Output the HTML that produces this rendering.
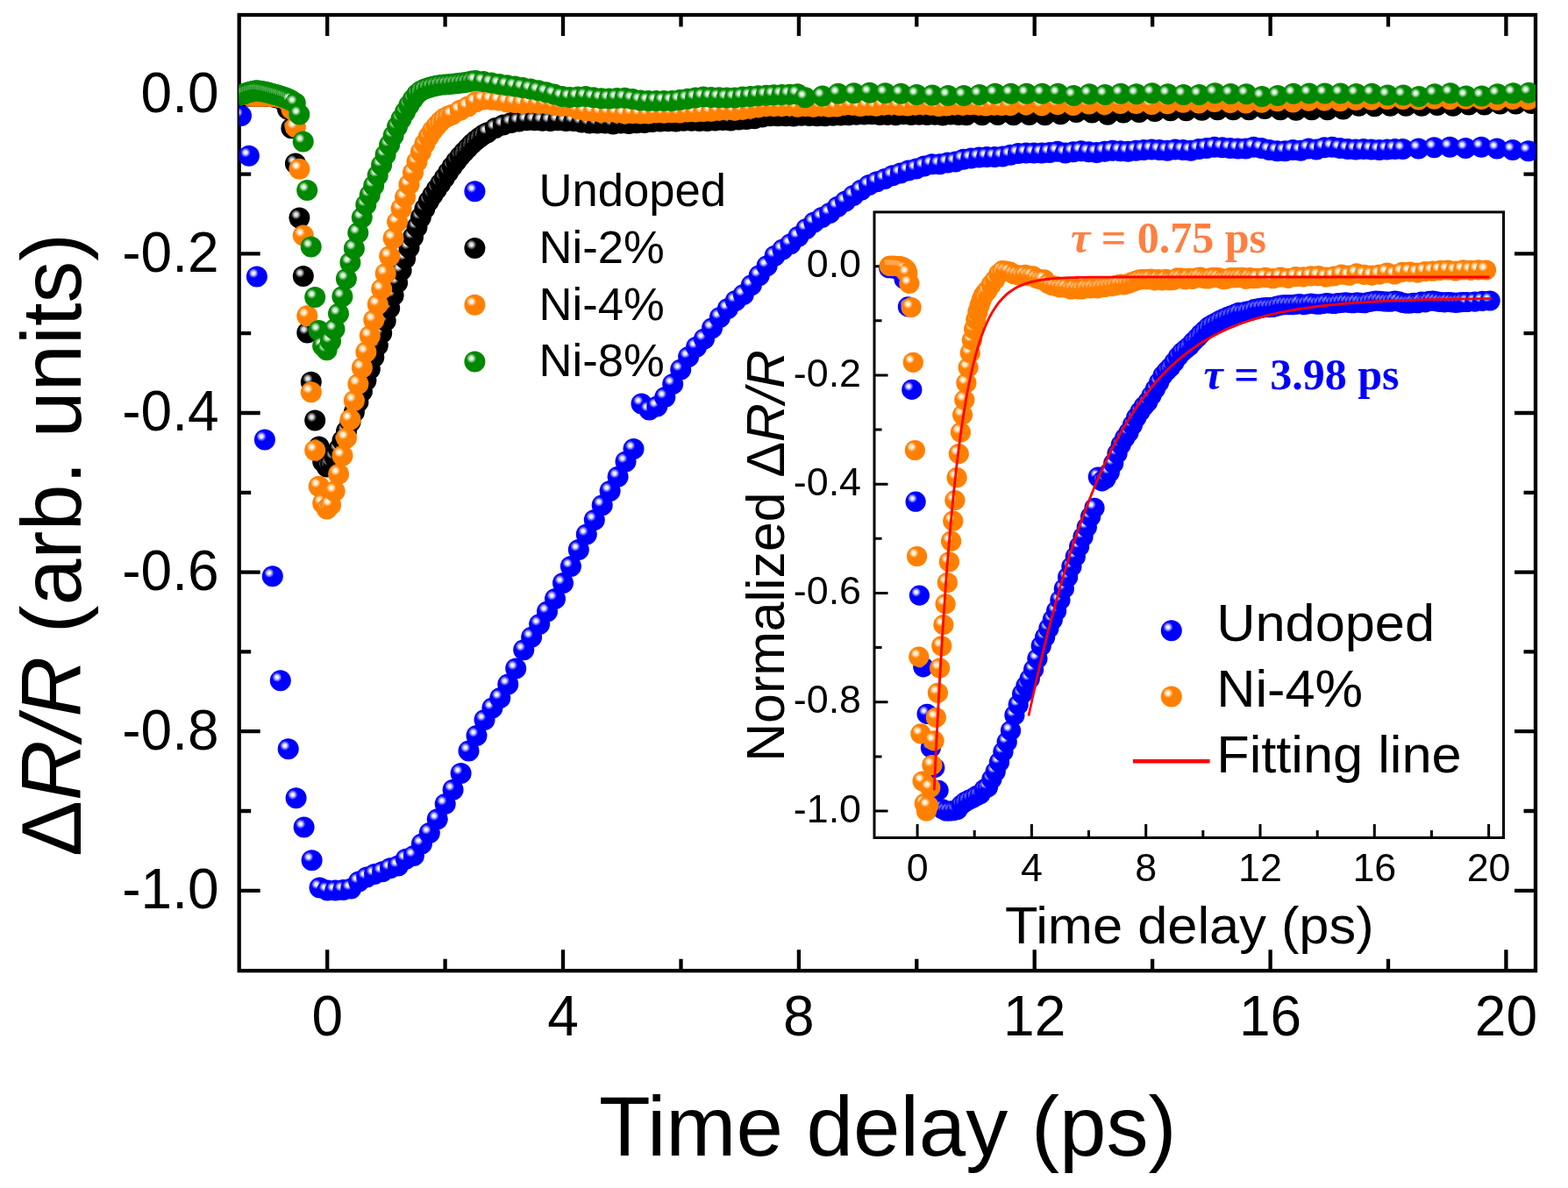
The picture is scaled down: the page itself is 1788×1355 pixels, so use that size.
<!DOCTYPE html>
<html lang="en"><head><meta charset="utf-8"><title>Transient reflectivity of undoped and Ni-doped samples</title>
<style>html,body{margin:0;padding:0;background:#fff}body{width:1788px;height:1355px;overflow:hidden}svg{display:block}text{font-family:"Liberation Sans",Arial,Helvetica,sans-serif;fill:#000}.ser{font-family:"Liberation Serif","Times New Roman",Times,serif;font-weight:bold}</style></head><body>
<svg width="1788" height="1355" viewBox="0 0 1788 1355">
<defs>
<radialGradient id="gB" cx="0.34" cy="0.34" r="0.235" fx="0.34" fy="0.34"><stop offset="0" stop-color="#f0f0ff"/><stop offset="0.3" stop-color="#f0f0ff"/><stop offset="0.66" stop-color="#7272ff"/><stop offset="1" stop-color="#0000ff"/></radialGradient>
<radialGradient id="gK" cx="0.34" cy="0.34" r="0.235" fx="0.34" fy="0.34"><stop offset="0" stop-color="#e6e6e6"/><stop offset="0.3" stop-color="#e6e6e6"/><stop offset="0.66" stop-color="#727272"/><stop offset="1" stop-color="#000000"/></radialGradient>
<radialGradient id="gO" cx="0.34" cy="0.34" r="0.235" fx="0.34" fy="0.34"><stop offset="0" stop-color="#fff6e4"/><stop offset="0.3" stop-color="#fff6e4"/><stop offset="0.66" stop-color="#ffba72"/><stop offset="1" stop-color="#ff8000"/></radialGradient>
<radialGradient id="gG" cx="0.34" cy="0.34" r="0.235" fx="0.34" fy="0.34"><stop offset="0" stop-color="#e6f8e6"/><stop offset="0.3" stop-color="#e6f8e6"/><stop offset="0.66" stop-color="#72be72"/><stop offset="1" stop-color="#008800"/></radialGradient>
<clipPath id="cm"><rect x="272.7" y="17.0" width="1478.3" height="1090.2"/></clipPath>
<clipPath id="ci"><rect x="997.0" y="241.9" width="717.5" height="713.6"/></clipPath>
</defs>
<rect width="1788" height="1355" fill="#fff"/>
<g stroke="#000" stroke-width="4.3" fill="none" stroke-linecap="butt">
<rect x="272.7" y="17.0" width="1478.3" height="1090.2"/>
<path d="M373.2 17.0v24.0M373.2 1107.2v-24.0M507.6 17.0v13.5M507.6 1107.2v-13.5M642.0 17.0v24.0M642.0 1107.2v-24.0M776.5 17.0v13.5M776.5 1107.2v-13.5M910.9 17.0v24.0M910.9 1107.2v-24.0M1045.3 17.0v13.5M1045.3 1107.2v-13.5M1179.7 17.0v24.0M1179.7 1107.2v-24.0M1314.1 17.0v13.5M1314.1 1107.2v-13.5M1448.6 17.0v24.0M1448.6 1107.2v-24.0M1583.0 17.0v13.5M1583.0 1107.2v-13.5M1717.4 17.0v24.0M1717.4 1107.2v-24.0M272.7 107.8h24.0M1751.0 107.8h-24.0M272.7 198.6h13.5M1751.0 198.6h-13.5M272.7 289.4h24.0M1751.0 289.4h-24.0M272.7 380.2h13.5M1751.0 380.2h-13.5M272.7 471.0h24.0M1751.0 471.0h-24.0M272.7 561.8h13.5M1751.0 561.8h-13.5M272.7 652.6h24.0M1751.0 652.6h-24.0M272.7 743.4h13.5M1751.0 743.4h-13.5M272.7 834.2h24.0M1751.0 834.2h-24.0M272.7 925.0h13.5M1751.0 925.0h-13.5M272.7 1015.8h24.0M1751.0 1015.8h-24.0"/>
</g>
<g clip-path="url(#cm)">
<g fill="url(#gB)"><circle cx="275" cy="131.9" r="12.0"/><circle cx="283.9" cy="177.8" r="12.0"/><circle cx="292.9" cy="315.4" r="12.0"/><circle cx="301.9" cy="501.6" r="12.0"/><circle cx="310.8" cy="657.3" r="12.0"/><circle cx="319.8" cy="776.3" r="12.0"/><circle cx="328.7" cy="854.3" r="12.0"/><circle cx="337.6" cy="910.3" r="12.0"/><circle cx="346.6" cy="943.6" r="12.0"/><circle cx="355.6" cy="981.2" r="12.0"/><circle cx="364.5" cy="1012.5" r="12.0"/><circle cx="373.4" cy="1015.5" r="12.0"/><circle cx="382.4" cy="1015.5" r="12.0"/><circle cx="391.4" cy="1015" r="12.0"/><circle cx="400.3" cy="1013.5" r="12.0"/><circle cx="409.2" cy="1005.5" r="12.0"/><circle cx="418.2" cy="1000.5" r="12.0"/><circle cx="427.1" cy="997" r="12.0"/><circle cx="436.1" cy="994.3" r="12.0"/><circle cx="445" cy="990.3" r="12.0"/><circle cx="454" cy="987.5" r="12.0"/><circle cx="462.9" cy="979.7" r="12.0"/><circle cx="471.9" cy="975.9" r="12.0"/><circle cx="480.9" cy="962.5" r="12.0"/><circle cx="489.8" cy="950" r="12.0"/><circle cx="498.8" cy="934.3" r="12.0"/><circle cx="507.7" cy="917" r="12.0"/><circle cx="516.6" cy="900.7" r="12.0"/><circle cx="525.6" cy="882" r="12.0"/><circle cx="534.5" cy="856.5" r="12.0"/><circle cx="543.5" cy="839" r="12.0"/><circle cx="552.5" cy="821" r="12.0"/><circle cx="561.4" cy="807.5" r="12.0"/><circle cx="570.3" cy="796" r="12.0"/><circle cx="579.3" cy="780.4" r="12.0"/><circle cx="588.2" cy="762.5" r="12.0"/><circle cx="597.2" cy="741.2" r="12.0"/><circle cx="606.1" cy="726.7" r="12.0"/><circle cx="615.1" cy="712.1" r="12.0"/><circle cx="624" cy="697.6" r="12.0"/><circle cx="633" cy="683" r="12.0"/><circle cx="642" cy="665.1" r="12.0"/><circle cx="650.9" cy="646.1" r="12.0"/><circle cx="659.8" cy="627.1" r="12.0"/><circle cx="668.8" cy="609.5" r="12.0"/><circle cx="677.8" cy="593" r="12.0"/><circle cx="686.7" cy="576.2" r="12.0"/><circle cx="695.6" cy="560" r="12.0"/><circle cx="704.6" cy="543.8" r="12.0"/><circle cx="713.5" cy="526.5" r="12.0"/><circle cx="722.5" cy="512" r="12.0"/><circle cx="731.5" cy="460.5" r="12.0"/><circle cx="740.4" cy="467.5" r="12.0"/><circle cx="749.3" cy="463.5" r="12.0"/><circle cx="758.3" cy="453" r="12.0"/><circle cx="767.2" cy="438" r="12.0"/><circle cx="776.2" cy="421.5" r="12.0"/><circle cx="785.1" cy="407" r="12.0"/><circle cx="794.1" cy="395.8" r="12.0"/><circle cx="803" cy="386.5" r="12.0"/><circle cx="812" cy="374.2" r="12.0"/><circle cx="820.9" cy="362" r="12.0"/><circle cx="829.9" cy="352" r="12.0"/><circle cx="838.8" cy="343" r="12.0"/><circle cx="847.8" cy="336" r="12.0"/><circle cx="856.8" cy="325.3" r="12.0"/><circle cx="865.7" cy="314.3" r="12.0"/><circle cx="874.6" cy="303.2" r="12.0"/><circle cx="883.6" cy="291.7" r="12.0"/><circle cx="892.5" cy="284.4" r="12.0"/><circle cx="901.5" cy="278.2" r="12.0"/><circle cx="910.4" cy="269.8" r="12.0"/><circle cx="919.4" cy="260.9" r="12.0"/><circle cx="928.3" cy="253.6" r="12.0"/><circle cx="937.3" cy="248" r="12.0"/><circle cx="946.2" cy="243" r="12.0"/><circle cx="955.2" cy="235.7" r="12.0"/><circle cx="964.1" cy="229.6" r="12.0"/><circle cx="973.1" cy="222.9" r="12.0"/><circle cx="982" cy="216.7" r="12.0"/><circle cx="991" cy="211.1" r="12.0"/><circle cx="999.9" cy="207.2" r="12.0"/><circle cx="1008.9" cy="204" r="12.0"/><circle cx="1017.8" cy="200.3" r="12.0"/><circle cx="1026.8" cy="197.5" r="12.0"/><circle cx="1035.8" cy="194.6" r="12.0"/><circle cx="1044.7" cy="192.4" r="12.0"/><circle cx="1053.7" cy="189.6" r="12.0"/><circle cx="1062.6" cy="187.3" r="12.0"/><circle cx="1071.5" cy="187.3" r="12.0"/><circle cx="1080.5" cy="185.6" r="12.0"/><circle cx="1089.4" cy="184.5" r="12.0"/><circle cx="1098.4" cy="181.7" r="12.0"/><circle cx="1107.3" cy="180.6" r="12.0"/><circle cx="1116.3" cy="179.5" r="12.0"/><circle cx="1125.2" cy="178.9" r="12.0"/><circle cx="1134.2" cy="178.9" r="12.0"/><circle cx="1143.2" cy="178.4" r="12.0"/><circle cx="1152.1" cy="176.7" r="12.0"/><circle cx="1161" cy="175" r="12.0"/><circle cx="1170" cy="174.5" r="12.0"/><circle cx="1178.9" cy="174.5" r="12.0"/><circle cx="1187.9" cy="174.5" r="12.0"/><circle cx="1196.8" cy="173.9" r="12.0"/><circle cx="1205.8" cy="172.8" r="12.0"/><circle cx="1214.8" cy="174.5" r="12.0"/><circle cx="1223.7" cy="173.3" r="12.0"/><circle cx="1232.7" cy="172.2" r="12.0"/><circle cx="1241.6" cy="173.3" r="12.0"/><circle cx="1250.5" cy="173.9" r="12.0"/><circle cx="1259.5" cy="172.8" r="12.0"/><circle cx="1268.4" cy="171.7" r="12.0"/><circle cx="1277.4" cy="172.2" r="12.0"/><circle cx="1286.3" cy="172.8" r="12.0"/><circle cx="1295.3" cy="171.7" r="12.0"/><circle cx="1304.2" cy="171.1" r="12.0"/><circle cx="1313.2" cy="170.5" r="12.0"/><circle cx="1322.1" cy="171.1" r="12.0"/><circle cx="1331.1" cy="171.7" r="12.0"/><circle cx="1340" cy="170.5" r="12.0"/><circle cx="1349" cy="171.1" r="12.0"/><circle cx="1357.9" cy="171.7" r="12.0"/><circle cx="1366.9" cy="170" r="12.0"/><circle cx="1375.8" cy="168.9" r="12.0"/><circle cx="1384.8" cy="167.7" r="12.0"/><circle cx="1393.8" cy="168.2" r="12.0"/><circle cx="1402.7" cy="168.9" r="12.0"/><circle cx="1411.6" cy="169.4" r="12.0"/><circle cx="1420.6" cy="169.4" r="12.0"/><circle cx="1429.5" cy="167.7" r="12.0"/><circle cx="1438.5" cy="168.9" r="12.0"/><circle cx="1447.4" cy="171.1" r="12.0"/><circle cx="1456.4" cy="172.2" r="12.0"/><circle cx="1465.3" cy="172.2" r="12.0"/><circle cx="1474.3" cy="171.1" r="12.0"/><circle cx="1483.2" cy="171.7" r="12.0"/><circle cx="1492.2" cy="169.4" r="12.0"/><circle cx="1501.1" cy="170.5" r="12.0"/><circle cx="1510.1" cy="168.3" r="12.0"/><circle cx="1519" cy="167.7" r="12.0"/><circle cx="1528" cy="168.9" r="12.0"/><circle cx="1536.9" cy="170" r="12.0"/><circle cx="1545.9" cy="170.5" r="12.0"/><circle cx="1554.8" cy="170" r="12.0"/><circle cx="1563.8" cy="170.5" r="12.0"/><circle cx="1572.8" cy="171.1" r="12.0"/><circle cx="1581.7" cy="170.5" r="12.0"/><circle cx="1590.6" cy="170" r="12.0"/><circle cx="1599.6" cy="170" r="12.0"/><circle cx="1617.5" cy="169.4" r="12.0"/><circle cx="1635.4" cy="168.3" r="12.0"/><circle cx="1653.3" cy="167.7" r="12.0"/><circle cx="1671.2" cy="168.9" r="12.0"/><circle cx="1689.1" cy="167.7" r="12.0"/><circle cx="1707" cy="169.4" r="12.0"/><circle cx="1724.9" cy="171.1" r="12.0"/><circle cx="1742.8" cy="172.2" r="12.0"/></g>
<g fill="url(#gK)"><circle cx="281" cy="109.4" r="12.0"/><circle cx="283.3" cy="109.4" r="12.0"/><circle cx="285.5" cy="109.5" r="12.0"/><circle cx="287.7" cy="109.5" r="12.0"/><circle cx="290" cy="109.5" r="12.0"/><circle cx="292.2" cy="109.5" r="12.0"/><circle cx="294.4" cy="109.5" r="12.0"/><circle cx="296.7" cy="109.5" r="12.0"/><circle cx="298.9" cy="109.5" r="12.0"/><circle cx="301.1" cy="109.6" r="12.0"/><circle cx="303.4" cy="109.7" r="12.0"/><circle cx="305.6" cy="109.8" r="12.0"/><circle cx="307.8" cy="109.9" r="12.0"/><circle cx="310.1" cy="110.2" r="12.0"/><circle cx="312.3" cy="110.5" r="12.0"/><circle cx="314.6" cy="110.9" r="12.0"/><circle cx="316.8" cy="111.4" r="12.0"/><circle cx="319" cy="112.1" r="12.0"/><circle cx="321.3" cy="112.9" r="12.0"/><circle cx="323.5" cy="115.5" r="12.0"/><circle cx="328" cy="124.5" r="12.0"/><circle cx="332.4" cy="146.3" r="12.0"/><circle cx="336.9" cy="186.4" r="12.0"/><circle cx="341.4" cy="248.6" r="12.0"/><circle cx="345.8" cy="315" r="12.0"/><circle cx="350.3" cy="379.5" r="12.0"/><circle cx="354.8" cy="435.7" r="12.0"/><circle cx="359.2" cy="479.6" r="12.0"/><circle cx="363.7" cy="509.5" r="12.0"/><circle cx="368.2" cy="526.5" r="12.0"/><circle cx="372.7" cy="532.5" r="12.0"/><circle cx="377.1" cy="529" r="12.0"/><circle cx="381.6" cy="521.5" r="12.0"/><circle cx="386.1" cy="512.5" r="12.0"/><circle cx="390.5" cy="502.5" r="12.0"/><circle cx="395" cy="492" r="12.0"/><circle cx="399.5" cy="481.5" r="12.0"/><circle cx="403.9" cy="470" r="12.0"/><circle cx="408.4" cy="458.5" r="12.0"/><circle cx="412.9" cy="446.5" r="12.0"/><circle cx="417.4" cy="434" r="12.0"/><circle cx="421.8" cy="421" r="12.0"/><circle cx="426.3" cy="407.5" r="12.0"/><circle cx="430.8" cy="394" r="12.0"/><circle cx="435.2" cy="380" r="12.0"/><circle cx="439.7" cy="366" r="12.0"/><circle cx="444.2" cy="351.5" r="12.0"/><circle cx="448.6" cy="337" r="12.0"/><circle cx="453.1" cy="322.5" r="12.0"/><circle cx="457.6" cy="308.5" r="12.0"/><circle cx="462.1" cy="295" r="12.0"/><circle cx="466.5" cy="282.5" r="12.0"/><circle cx="471" cy="270.5" r="12.0"/><circle cx="475.5" cy="259" r="12.0"/><circle cx="479.9" cy="248" r="12.0"/><circle cx="484.4" cy="238" r="12.0"/><circle cx="488.9" cy="229.5" r="12.0"/><circle cx="493.4" cy="222.5" r="12.0"/><circle cx="497.8" cy="216" r="12.0"/><circle cx="502.3" cy="209.5" r="12.0"/><circle cx="506.8" cy="203" r="12.0"/><circle cx="511.2" cy="196.5" r="12.0"/><circle cx="515.7" cy="190" r="12.0"/><circle cx="520.2" cy="184" r="12.0"/><circle cx="524.6" cy="178.5" r="12.0"/><circle cx="529.1" cy="173.5" r="12.0"/><circle cx="533.6" cy="168.7" r="12.0"/><circle cx="538" cy="164.3" r="12.0"/><circle cx="542.5" cy="160.3" r="12.0"/><circle cx="547" cy="156.8" r="12.0"/><circle cx="551.5" cy="153.6" r="12.0"/><circle cx="555.9" cy="151.2" r="12.0"/><circle cx="564.9" cy="146.1" r="12.0"/><circle cx="573.8" cy="142.6" r="12.0"/><circle cx="582.8" cy="140.1" r="12.0"/><circle cx="591.7" cy="138.6" r="12.0"/><circle cx="600.6" cy="137.3" r="12.0"/><circle cx="609.6" cy="137.3" r="12.0"/><circle cx="618.5" cy="137.8" r="12.0"/><circle cx="627.5" cy="138" r="12.0"/><circle cx="636.4" cy="137.3" r="12.0"/><circle cx="645.4" cy="138.1" r="12.0"/><circle cx="654.3" cy="138" r="12.0"/><circle cx="663.3" cy="139.6" r="12.0"/><circle cx="672.2" cy="140.6" r="12.0"/><circle cx="681.2" cy="140.6" r="12.0"/><circle cx="690.1" cy="140.5" r="12.0"/><circle cx="699.1" cy="141.4" r="12.0"/><circle cx="708" cy="140.6" r="12.0"/><circle cx="717" cy="141" r="12.0"/><circle cx="725.9" cy="140.3" r="12.0"/><circle cx="734.9" cy="140" r="12.0"/><circle cx="743.8" cy="139" r="12.0"/><circle cx="752.8" cy="138.5" r="12.0"/><circle cx="761.8" cy="138.2" r="12.0"/><circle cx="770.7" cy="138.6" r="12.0"/><circle cx="779.6" cy="137.7" r="12.0"/><circle cx="788.6" cy="137.7" r="12.0"/><circle cx="797.5" cy="137.9" r="12.0"/><circle cx="806.5" cy="138" r="12.0"/><circle cx="815.4" cy="137.5" r="12.0"/><circle cx="824.4" cy="137" r="12.0"/><circle cx="833.3" cy="137.4" r="12.0"/><circle cx="842.3" cy="136.4" r="12.0"/><circle cx="851.2" cy="136" r="12.0"/><circle cx="860.2" cy="135.3" r="12.0"/><circle cx="869.1" cy="133.5" r="12.0"/><circle cx="878.1" cy="132.3" r="12.0"/><circle cx="887" cy="132.3" r="12.0"/><circle cx="896" cy="132.3" r="12.0"/><circle cx="904.9" cy="132.4" r="12.0"/><circle cx="913.9" cy="131.8" r="12.0"/><circle cx="922.8" cy="131.9" r="12.0"/><circle cx="931.8" cy="132.3" r="12.0"/><circle cx="940.8" cy="132.2" r="12.0"/><circle cx="949.7" cy="131.7" r="12.0"/><circle cx="958.6" cy="131.6" r="12.0"/><circle cx="967.6" cy="131.3" r="12.0"/><circle cx="976.5" cy="130.7" r="12.0"/><circle cx="985.5" cy="130.4" r="12.0"/><circle cx="994.4" cy="130.2" r="12.0"/><circle cx="1003.4" cy="131" r="12.0"/><circle cx="1012.3" cy="130.9" r="12.0"/><circle cx="1021.3" cy="131.2" r="12.0"/><circle cx="1030.2" cy="130.2" r="12.0"/><circle cx="1039.2" cy="130.9" r="12.0"/><circle cx="1048.1" cy="130.8" r="12.0"/><circle cx="1057.1" cy="131.1" r="12.0"/><circle cx="1066" cy="130.7" r="12.0"/><circle cx="1075" cy="131.4" r="12.0"/><circle cx="1083.9" cy="130.5" r="12.0"/><circle cx="1092.9" cy="131" r="12.0"/><circle cx="1102" cy="131.3" r="12.0"/><circle cx="1119.9" cy="131.3" r="12.0"/><circle cx="1137.8" cy="131" r="12.0"/><circle cx="1155.7" cy="131.3" r="12.0"/><circle cx="1173.6" cy="131" r="12.0"/><circle cx="1191.5" cy="131.3" r="12.0"/><circle cx="1209.4" cy="130.2" r="12.0"/><circle cx="1227.3" cy="128" r="12.0"/><circle cx="1245.2" cy="128.5" r="12.0"/><circle cx="1263.1" cy="130.8" r="12.0"/><circle cx="1281" cy="128.5" r="12.0"/><circle cx="1298.9" cy="128" r="12.0"/><circle cx="1316.8" cy="126.9" r="12.0"/><circle cx="1334.7" cy="126.3" r="12.0"/><circle cx="1352.6" cy="126.3" r="12.0"/><circle cx="1370.5" cy="125.7" r="12.0"/><circle cx="1388.4" cy="125.2" r="12.0"/><circle cx="1406.3" cy="125.2" r="12.0"/><circle cx="1424.2" cy="125.2" r="12.0"/><circle cx="1442.1" cy="124.1" r="12.0"/><circle cx="1460" cy="125.2" r="12.0"/><circle cx="1477.9" cy="125.7" r="12.0"/><circle cx="1495.8" cy="125.2" r="12.0"/><circle cx="1513.7" cy="125.2" r="12.0"/><circle cx="1531.6" cy="124.6" r="12.0"/><circle cx="1549.5" cy="120.7" r="12.0"/><circle cx="1567.4" cy="121.3" r="12.0"/><circle cx="1585.3" cy="120.7" r="12.0"/><circle cx="1603.2" cy="120.7" r="12.0"/><circle cx="1621.1" cy="120.7" r="12.0"/><circle cx="1639" cy="120.1" r="12.0"/><circle cx="1656.9" cy="120.7" r="12.0"/><circle cx="1674.8" cy="119.6" r="12.0"/><circle cx="1692.7" cy="119.6" r="12.0"/><circle cx="1710.6" cy="118.5" r="12.0"/><circle cx="1728.5" cy="118.5" r="12.0"/><circle cx="1746.4" cy="117.9" r="12.0"/></g>
<path d="M276.4 103v4.4M278.7 103v4.4M280.9 103.1v4.4M283.1 103.1v4.4M285.4 103.1v4.4M287.6 103.1v4.4M289.8 103.1v4.4M292.1 103.1v4.4M294.3 103.1v4.4M296.5 103.2v4.4M298.8 103.3v4.4M301 103.4v4.4M303.2 103.5v4.4M305.5 103.8v4.4M307.7 104.1v4.4M309.9 104.5v4.4M312.2 105v4.4M314.4 105.7v4.4M316.7 106.5v4.4M368.1 526.1v4.4M520 172.1v4.4M524.5 167.1v4.4M529 162.3v4.4M533.4 157.9v4.4M537.9 153.9v4.4M542.4 150.4v4.4" stroke="#fff" stroke-opacity=".3" stroke-width="1.5" stroke-linecap="round" fill="none"/>
<g fill="url(#gO)"><circle cx="285.5" cy="109.4" r="12.0"/><circle cx="287.7" cy="109.4" r="12.0"/><circle cx="290" cy="109.4" r="12.0"/><circle cx="292.2" cy="109.4" r="12.0"/><circle cx="294.4" cy="109.4" r="12.0"/><circle cx="296.7" cy="109.4" r="12.0"/><circle cx="298.9" cy="109.4" r="12.0"/><circle cx="301.1" cy="109.4" r="12.0"/><circle cx="303.4" cy="109.5" r="12.0"/><circle cx="305.6" cy="109.6" r="12.0"/><circle cx="307.8" cy="109.7" r="12.0"/><circle cx="310.1" cy="109.7" r="12.0"/><circle cx="312.3" cy="109.8" r="12.0"/><circle cx="314.5" cy="110.2" r="12.0"/><circle cx="316.8" cy="110.5" r="12.0"/><circle cx="319" cy="110.9" r="12.0"/><circle cx="321.3" cy="111.4" r="12.0"/><circle cx="323.5" cy="112.1" r="12.0"/><circle cx="325.7" cy="112.9" r="12.0"/><circle cx="328" cy="115.5" r="12.0"/><circle cx="332.4" cy="124.5" r="12.0"/><circle cx="336.9" cy="145.1" r="12.0"/><circle cx="341.4" cy="192.7" r="12.0"/><circle cx="345.8" cy="268.6" r="12.0"/><circle cx="350.3" cy="360.3" r="12.0"/><circle cx="354.8" cy="447.2" r="12.0"/><circle cx="359.2" cy="513.7" r="12.0"/><circle cx="363.7" cy="554.7" r="12.0"/><circle cx="368.2" cy="574" r="12.0"/><circle cx="372.7" cy="580.5" r="12.0"/><circle cx="377.1" cy="575.9" r="12.0"/><circle cx="381.6" cy="560.3" r="12.0"/><circle cx="386.1" cy="540.7" r="12.0"/><circle cx="390.5" cy="519.8" r="12.0"/><circle cx="395" cy="499.6" r="12.0"/><circle cx="399.5" cy="478.4" r="12.0"/><circle cx="403.9" cy="457" r="12.0"/><circle cx="408.4" cy="437.9" r="12.0"/><circle cx="412.9" cy="419.5" r="12.0"/><circle cx="417.4" cy="401.6" r="12.0"/><circle cx="421.8" cy="383.1" r="12.0"/><circle cx="426.3" cy="365.1" r="12.0"/><circle cx="430.8" cy="347.2" r="12.0"/><circle cx="435.2" cy="329.8" r="12.0"/><circle cx="439.7" cy="311.9" r="12.0"/><circle cx="444.2" cy="292.3" r="12.0"/><circle cx="448.6" cy="271.7" r="12.0"/><circle cx="453.1" cy="253.2" r="12.0"/><circle cx="457.6" cy="238" r="12.0"/><circle cx="462.1" cy="225.1" r="12.0"/><circle cx="466.5" cy="210.5" r="12.0"/><circle cx="471" cy="197.1" r="12.0"/><circle cx="475.5" cy="184.5" r="12.0"/><circle cx="479.9" cy="173.5" r="12.0"/><circle cx="484.4" cy="164" r="12.0"/><circle cx="488.9" cy="155.8" r="12.0"/><circle cx="493.3" cy="149" r="12.0"/><circle cx="497.8" cy="143.4" r="12.0"/><circle cx="502.3" cy="138.5" r="12.0"/><circle cx="506.8" cy="134.8" r="12.0"/><circle cx="511.2" cy="132.5" r="12.0"/><circle cx="515.7" cy="130.7" r="12.0"/><circle cx="524.7" cy="125.7" r="12.0"/><circle cx="533.6" cy="121.5" r="12.0"/><circle cx="542.6" cy="116.2" r="12.0"/><circle cx="551.5" cy="113.4" r="12.0"/><circle cx="560.5" cy="113.8" r="12.0"/><circle cx="569.4" cy="114.6" r="12.0"/><circle cx="578.4" cy="116.4" r="12.0"/><circle cx="587.3" cy="117.1" r="12.0"/><circle cx="596.2" cy="117.9" r="12.0"/><circle cx="605.2" cy="116.9" r="12.0"/><circle cx="614.2" cy="117.9" r="12.0"/><circle cx="623.1" cy="118.1" r="12.0"/><circle cx="632.1" cy="120.1" r="12.0"/><circle cx="641" cy="121.1" r="12.0"/><circle cx="650" cy="121.1" r="12.0"/><circle cx="658.9" cy="124.6" r="12.0"/><circle cx="667.9" cy="126.2" r="12.0"/><circle cx="676.8" cy="126.8" r="12.0"/><circle cx="685.8" cy="127.9" r="12.0"/><circle cx="694.7" cy="127.8" r="12.0"/><circle cx="703.7" cy="128.2" r="12.0"/><circle cx="712.6" cy="129.5" r="12.0"/><circle cx="721.6" cy="128.9" r="12.0"/><circle cx="730.5" cy="129.5" r="12.0"/><circle cx="739.5" cy="129.4" r="12.0"/><circle cx="748.4" cy="128.4" r="12.0"/><circle cx="757.4" cy="128.7" r="12.0"/><circle cx="766.3" cy="128.2" r="12.0"/><circle cx="775.2" cy="128.6" r="12.0"/><circle cx="784.2" cy="127.6" r="12.0"/><circle cx="793.2" cy="127.5" r="12.0"/><circle cx="802.1" cy="126.9" r="12.0"/><circle cx="811" cy="126.7" r="12.0"/><circle cx="820" cy="125.8" r="12.0"/><circle cx="829" cy="125" r="12.0"/><circle cx="837.9" cy="125.7" r="12.0"/><circle cx="846.9" cy="124.7" r="12.0"/><circle cx="855.8" cy="123.4" r="12.0"/><circle cx="864.8" cy="122.2" r="12.0"/><circle cx="873.7" cy="121.1" r="12.0"/><circle cx="882.7" cy="120.9" r="12.0"/><circle cx="891.6" cy="121" r="12.0"/><circle cx="900.5" cy="120.5" r="12.0"/><circle cx="909.5" cy="121.8" r="12.0"/><circle cx="918.5" cy="121" r="12.0"/><circle cx="927.4" cy="121.8" r="12.0"/><circle cx="936.4" cy="120.7" r="12.0"/><circle cx="945.3" cy="121.8" r="12.0"/><circle cx="954.2" cy="121.4" r="12.0"/><circle cx="963.2" cy="119.6" r="12.0"/><circle cx="972.2" cy="119.8" r="12.0"/><circle cx="981.1" cy="121" r="12.0"/><circle cx="990" cy="119.9" r="12.0"/><circle cx="999" cy="120.8" r="12.0"/><circle cx="1008" cy="119.6" r="12.0"/><circle cx="1016.9" cy="119" r="12.0"/><circle cx="1025.8" cy="120.1" r="12.0"/><circle cx="1034.8" cy="120.5" r="12.0"/><circle cx="1043.8" cy="119.5" r="12.0"/><circle cx="1052.7" cy="119.1" r="12.0"/><circle cx="1061.7" cy="119.7" r="12.0"/><circle cx="1070.6" cy="120.9" r="12.0"/><circle cx="1079.5" cy="120.6" r="12.0"/><circle cx="1088.5" cy="119.3" r="12.0"/><circle cx="1097.5" cy="119.6" r="12.0"/><circle cx="1106.4" cy="119.3" r="12.0"/><circle cx="1115.3" cy="119.2" r="12.0"/><circle cx="1124.3" cy="120.6" r="12.0"/><circle cx="1133.2" cy="119.4" r="12.0"/><circle cx="1142.2" cy="120.1" r="12.0"/><circle cx="1152.2" cy="119.9" r="12.0"/><circle cx="1170.1" cy="119.3" r="12.0"/><circle cx="1188" cy="120.2" r="12.0"/><circle cx="1205.9" cy="118.9" r="12.0"/><circle cx="1223.8" cy="119.9" r="12.0"/><circle cx="1241.7" cy="118.6" r="12.0"/><circle cx="1259.6" cy="118.9" r="12.0"/><circle cx="1277.5" cy="118.1" r="12.0"/><circle cx="1295.4" cy="117.9" r="12.0"/><circle cx="1313.3" cy="118.9" r="12.0"/><circle cx="1331.2" cy="118.2" r="12.0"/><circle cx="1349.1" cy="116.8" r="12.0"/><circle cx="1367" cy="117.5" r="12.0"/><circle cx="1384.9" cy="115.9" r="12.0"/><circle cx="1402.8" cy="116.9" r="12.0"/><circle cx="1420.7" cy="117.5" r="12.0"/><circle cx="1438.6" cy="116.7" r="12.0"/><circle cx="1456.5" cy="115.2" r="12.0"/><circle cx="1474.4" cy="116.6" r="12.0"/><circle cx="1492.3" cy="114.7" r="12.0"/><circle cx="1510.2" cy="114.5" r="12.0"/><circle cx="1528.1" cy="115.3" r="12.0"/><circle cx="1546" cy="114.1" r="12.0"/><circle cx="1563.9" cy="113.8" r="12.0"/><circle cx="1581.8" cy="113.1" r="12.0"/><circle cx="1599.7" cy="112.9" r="12.0"/><circle cx="1617.6" cy="113.6" r="12.0"/><circle cx="1635.5" cy="112.7" r="12.0"/><circle cx="1653.4" cy="113.2" r="12.0"/><circle cx="1671.3" cy="112.7" r="12.0"/><circle cx="1689.2" cy="112.9" r="12.0"/><circle cx="1707.1" cy="114" r="12.0"/><circle cx="1725" cy="113.1" r="12.0"/><circle cx="1742.9" cy="113.4" r="12.0"/></g>
<path d="M280.9 103v4.4M283.1 103v4.4M285.4 103v4.4M287.6 103v4.4M289.8 103v4.4M292.1 103v4.4M294.3 103v4.4M296.5 103v4.4M298.8 103.1v4.4M301 103.2v4.4M303.2 103.3v4.4M305.5 103.3v4.4M307.7 103.4v4.4M309.9 103.8v4.4M312.2 104.1v4.4M314.4 104.5v4.4M316.7 105v4.4M318.9 105.7v4.4M321.1 106.5v4.4M368.1 574.1v4.4M493.2 137v4.4M497.7 132.1v4.4M502.2 128.4v4.4" stroke="#fff" stroke-opacity=".3" stroke-width="1.5" stroke-linecap="round" fill="none"/>
<g fill="url(#gG)"><circle cx="274.2" cy="108.2" r="12.0"/><circle cx="276.5" cy="107.7" r="12.0"/><circle cx="278.7" cy="106.9" r="12.0"/><circle cx="280.9" cy="106.1" r="12.0"/><circle cx="283.2" cy="105.3" r="12.0"/><circle cx="285.4" cy="104.7" r="12.0"/><circle cx="287.6" cy="104.2" r="12.0"/><circle cx="289.9" cy="103.7" r="12.0"/><circle cx="292.1" cy="103.3" r="12.0"/><circle cx="294.3" cy="103.5" r="12.0"/><circle cx="296.6" cy="103.8" r="12.0"/><circle cx="298.8" cy="104.2" r="12.0"/><circle cx="301" cy="104.5" r="12.0"/><circle cx="303.3" cy="105.1" r="12.0"/><circle cx="305.5" cy="105.6" r="12.0"/><circle cx="307.7" cy="106.2" r="12.0"/><circle cx="310" cy="106.7" r="12.0"/><circle cx="312.2" cy="107.4" r="12.0"/><circle cx="314.4" cy="108" r="12.0"/><circle cx="316.7" cy="108.6" r="12.0"/><circle cx="318.9" cy="109.2" r="12.0"/><circle cx="321.2" cy="109.9" r="12.0"/><circle cx="323.4" cy="110.8" r="12.0"/><circle cx="325.6" cy="111.6" r="12.0"/><circle cx="327.9" cy="112.4" r="12.0"/><circle cx="330.1" cy="113.6" r="12.0"/><circle cx="332.3" cy="114.8" r="12.0"/><circle cx="336.8" cy="117.6" r="12.0"/><circle cx="341.3" cy="130.5" r="12.0"/><circle cx="345.7" cy="161.6" r="12.0"/><circle cx="350.2" cy="217" r="12.0"/><circle cx="354.7" cy="281.5" r="12.0"/><circle cx="359.2" cy="339.1" r="12.0"/><circle cx="363.6" cy="377" r="12.0"/><circle cx="368.1" cy="394.5" r="12.0"/><circle cx="372.6" cy="399.3" r="12.0"/><circle cx="377" cy="389.2" r="12.0"/><circle cx="381.5" cy="375.4" r="12.0"/><circle cx="386" cy="357.7" r="12.0"/><circle cx="390.4" cy="338.2" r="12.0"/><circle cx="394.9" cy="318" r="12.0"/><circle cx="399.4" cy="299.6" r="12.0"/><circle cx="403.9" cy="283.4" r="12.0"/><circle cx="408.3" cy="265.5" r="12.0"/><circle cx="412.8" cy="248.3" r="12.0"/><circle cx="417.3" cy="233.5" r="12.0"/><circle cx="421.7" cy="222.4" r="12.0"/><circle cx="426.2" cy="211.7" r="12.0"/><circle cx="430.7" cy="200" r="12.0"/><circle cx="435.1" cy="188.2" r="12.0"/><circle cx="439.6" cy="176.5" r="12.0"/><circle cx="444.1" cy="165.3" r="12.0"/><circle cx="448.6" cy="154.7" r="12.0"/><circle cx="453" cy="144.6" r="12.0"/><circle cx="457.5" cy="135.7" r="12.0"/><circle cx="462" cy="127.8" r="12.0"/><circle cx="466.4" cy="120" r="12.0"/><circle cx="470.9" cy="113.3" r="12.0"/><circle cx="475.4" cy="107.6" r="12.0"/><circle cx="479.8" cy="103.8" r="12.0"/><circle cx="484.3" cy="101.5" r="12.0"/><circle cx="488.8" cy="100" r="12.0"/><circle cx="493.2" cy="98.8" r="12.0"/><circle cx="497.7" cy="97.8" r="12.0"/><circle cx="502.2" cy="97" r="12.0"/><circle cx="506.7" cy="96.6" r="12.0"/><circle cx="511.1" cy="96.2" r="12.0"/><circle cx="515.6" cy="95.7" r="12.0"/><circle cx="520.1" cy="95.2" r="12.0"/><circle cx="524.5" cy="94.8" r="12.0"/><circle cx="529" cy="94.3" r="12.0"/><circle cx="533.5" cy="93.6" r="12.0"/><circle cx="538" cy="92.6" r="12.0"/><circle cx="542.4" cy="92" r="12.0"/><circle cx="551.4" cy="93" r="12.0"/><circle cx="560.4" cy="94.5" r="12.0"/><circle cx="569.3" cy="95.9" r="12.0"/><circle cx="578.2" cy="97.3" r="12.0"/><circle cx="587.2" cy="98.6" r="12.0"/><circle cx="596.1" cy="99.9" r="12.0"/><circle cx="605.1" cy="101.5" r="12.0"/><circle cx="614" cy="103.3" r="12.0"/><circle cx="623" cy="105.2" r="12.0"/><circle cx="631.9" cy="107.4" r="12.0"/><circle cx="640.9" cy="110" r="12.0"/><circle cx="649.8" cy="110.9" r="12.0"/><circle cx="658.8" cy="110.4" r="12.0"/><circle cx="667.8" cy="110.1" r="12.0"/><circle cx="676.7" cy="111.2" r="12.0"/><circle cx="685.6" cy="112.3" r="12.0"/><circle cx="694.6" cy="112.5" r="12.0"/><circle cx="703.5" cy="112" r="12.0"/><circle cx="712.5" cy="111.8" r="12.0"/><circle cx="721.4" cy="113" r="12.0"/><circle cx="730.4" cy="114.5" r="12.0"/><circle cx="739.3" cy="115.1" r="12.0"/><circle cx="748.3" cy="115.1" r="12.0"/><circle cx="757.2" cy="115.1" r="12.0"/><circle cx="766.2" cy="115.1" r="12.0"/><circle cx="775.1" cy="114" r="12.0"/><circle cx="784.1" cy="112.8" r="12.0"/><circle cx="793" cy="111.6" r="12.0"/><circle cx="802" cy="110.6" r="12.0"/><circle cx="810.9" cy="110.9" r="12.0"/><circle cx="819.9" cy="111.2" r="12.0"/><circle cx="828.8" cy="111.5" r="12.0"/><circle cx="837.8" cy="111.4" r="12.0"/><circle cx="846.8" cy="110.6" r="12.0"/><circle cx="855.7" cy="109.9" r="12.0"/><circle cx="864.6" cy="109.3" r="12.0"/><circle cx="873.6" cy="108.7" r="12.0"/><circle cx="882.5" cy="108.3" r="12.0"/><circle cx="891.5" cy="108" r="12.0"/><circle cx="900.4" cy="107.8" r="12.0"/><circle cx="909.4" cy="107.3" r="12.0"/><circle cx="918.3" cy="111.2" r="12.0"/><circle cx="937.9" cy="109.6" r="12.0"/><circle cx="955.8" cy="106.8" r="12.0"/><circle cx="973.7" cy="106.2" r="12.0"/><circle cx="991.6" cy="105.7" r="12.0"/><circle cx="1009.5" cy="106.2" r="12.0"/><circle cx="1027.4" cy="106.8" r="12.0"/><circle cx="1045.3" cy="107.9" r="12.0"/><circle cx="1063.2" cy="108.5" r="12.0"/><circle cx="1081.1" cy="109" r="12.0"/><circle cx="1099" cy="109" r="12.0"/><circle cx="1116.9" cy="107.9" r="12.0"/><circle cx="1134.8" cy="106.8" r="12.0"/><circle cx="1152.7" cy="106.8" r="12.0"/><circle cx="1170.6" cy="106.8" r="12.0"/><circle cx="1188.5" cy="106.8" r="12.0"/><circle cx="1206.4" cy="106.8" r="12.0"/><circle cx="1224.3" cy="109" r="12.0"/><circle cx="1242.2" cy="107.3" r="12.0"/><circle cx="1260.1" cy="107.9" r="12.0"/><circle cx="1278" cy="106.8" r="12.0"/><circle cx="1295.9" cy="107.3" r="12.0"/><circle cx="1313.8" cy="106.2" r="12.0"/><circle cx="1331.7" cy="107.3" r="12.0"/><circle cx="1349.6" cy="107.9" r="12.0"/><circle cx="1367.5" cy="107.9" r="12.0"/><circle cx="1385.4" cy="106.2" r="12.0"/><circle cx="1403.3" cy="107.1" r="12.0"/><circle cx="1421.2" cy="107.3" r="12.0"/><circle cx="1439.1" cy="110.1" r="12.0"/><circle cx="1457" cy="109" r="12.0"/><circle cx="1474.9" cy="106.8" r="12.0"/><circle cx="1492.8" cy="106.6" r="12.0"/><circle cx="1510.7" cy="106.6" r="12.0"/><circle cx="1528.6" cy="106.6" r="12.0"/><circle cx="1546.5" cy="107" r="12.0"/><circle cx="1564.4" cy="106.8" r="12.0"/><circle cx="1582.3" cy="108.5" r="12.0"/><circle cx="1600.2" cy="108.5" r="12.0"/><circle cx="1618.1" cy="110.1" r="12.0"/><circle cx="1636" cy="107.3" r="12.0"/><circle cx="1653.9" cy="106.2" r="12.0"/><circle cx="1671.8" cy="109.6" r="12.0"/><circle cx="1689.7" cy="109.6" r="12.0"/><circle cx="1707.6" cy="107.3" r="12.0"/><circle cx="1725.5" cy="106.2" r="12.0"/><circle cx="1743.4" cy="105.7" r="12.0"/></g>
<path d="M269.6 101.8v4.4M271.9 101.3v4.4M274.1 100.5v4.4M276.3 99.7v4.4M278.6 98.9v4.4M280.8 98.3v4.4M283 97.8v4.4M285.3 97.3v4.4M287.5 96.9v4.4M289.7 97.1v4.4M292 97.4v4.4M294.2 97.8v4.4M296.4 98.1v4.4M298.7 98.7v4.4M300.9 99.2v4.4M303.1 99.8v4.4M305.4 100.3v4.4M307.6 101v4.4M309.8 101.6v4.4M312.1 102.2v4.4M314.3 102.8v4.4M316.6 103.5v4.4M318.8 104.4v4.4M321 105.2v4.4M323.3 106v4.4M325.5 107.2v4.4M327.7 108.4v4.4M363.5 388.1v4.4M470.8 101.2v4.4M475.2 97.4v4.4M479.7 95.1v4.4M484.2 93.6v4.4M488.6 92.4v4.4M493.1 91.4v4.4M497.6 90.6v4.4M502.1 90.2v4.4M506.5 89.8v4.4M511 89.3v4.4M515.5 88.8v4.4M519.9 88.4v4.4M524.4 87.9v4.4M528.9 87.2v4.4M533.4 86.2v4.4" stroke="#fff" stroke-opacity=".3" stroke-width="1.5" stroke-linecap="round" fill="none"/>
</g>
<g font-size="64">
<text x="373.2" y="1181" text-anchor="middle">0</text>
<text x="642.0" y="1181" text-anchor="middle">4</text>
<text x="910.9" y="1181" text-anchor="middle">8</text>
<text x="1179.7" y="1181" text-anchor="middle">12</text>
<text x="1448.6" y="1181" text-anchor="middle">16</text>
<text x="1717.4" y="1181" text-anchor="middle">20</text>
<text x="249.5" y="128.1" text-anchor="end">0.0</text>
<text x="249.5" y="309.7" text-anchor="end">-0.2</text>
<text x="249.5" y="491.3" text-anchor="end">-0.4</text>
<text x="249.5" y="672.9" text-anchor="end">-0.6</text>
<text x="249.5" y="854.5" text-anchor="end">-0.8</text>
<text x="249.5" y="1036.1" text-anchor="end">-1.0</text>
</g>
<text x="1012.2" y="1317.5" font-size="96.1" text-anchor="middle">Time delay (ps)</text>
<text transform="translate(91.5 621.5) rotate(-90)" font-size="95.5" text-anchor="middle">Δ<tspan font-style="italic">R/R</tspan> (arb. units)</text>
<g font-size="52.6">
<circle cx="541.4" cy="218.2" r="12" fill="url(#gB)"/>
<text x="614.5" y="235.0">Undoped</text>
<circle cx="541.4" cy="283.0" r="12" fill="url(#gK)"/>
<text x="614.5" y="299.8">Ni-2%</text>
<circle cx="541.4" cy="347.8" r="12" fill="url(#gO)"/>
<text x="614.5" y="364.6">Ni-4%</text>
<circle cx="541.4" cy="412.6" r="12" fill="url(#gG)"/>
<text x="614.5" y="429.4">Ni-8%</text>
</g>
<rect x="997.0" y="241.9" width="717.5" height="713.6" fill="#fff"/>
<g stroke="#000" stroke-width="3.0" fill="none">
<rect x="997.0" y="241.9" width="717.5" height="713.6"/>
<path d="M1046.1 955.5v-15.5M1111.2 955.5v-8.5M1176.4 955.5v-15.5M1241.5 955.5v-8.5M1306.7 955.5v-15.5M1371.8 955.5v-8.5M1437.0 955.5v-15.5M1502.2 955.5v-8.5M1567.3 955.5v-15.5M1632.4 955.5v-8.5M1697.6 955.5v-15.5M997.0 303.7h15.5M997.0 365.8h8.5M997.0 428.0h15.5M997.0 490.1h8.5M997.0 552.2h15.5M997.0 614.3h8.5M997.0 676.5h15.5M997.0 738.6h8.5M997.0 800.7h15.5M997.0 862.9h8.5M997.0 925.0h15.5"/>
</g>
<g clip-path="url(#ci)">
<g fill="url(#gB)"><circle cx="1013.7" cy="305.7" r="11.6"/><circle cx="1018.1" cy="306" r="11.6"/><circle cx="1022.4" cy="306.6" r="11.6"/><circle cx="1026.7" cy="309.2" r="11.6"/><circle cx="1031.1" cy="318.4" r="11.6"/><circle cx="1035.4" cy="349.9" r="11.6"/><circle cx="1039.8" cy="444.4" r="11.6"/><circle cx="1044.1" cy="572.2" r="11.6"/><circle cx="1048.4" cy="679.1" r="11.6"/><circle cx="1052.8" cy="760.8" r="11.6"/><circle cx="1057.1" cy="814.3" r="11.6"/><circle cx="1061.4" cy="852.8" r="11.6"/><circle cx="1065.8" cy="875.6" r="11.6"/><circle cx="1070.1" cy="901.4" r="11.6"/><circle cx="1074.5" cy="922.9" r="11.6"/><circle cx="1078.8" cy="925" r="11.6"/><circle cx="1083.1" cy="925" r="11.6"/><circle cx="1087.5" cy="924.6" r="11.6"/><circle cx="1091.8" cy="923.6" r="11.6"/><circle cx="1096.1" cy="918.1" r="11.6"/><circle cx="1100.5" cy="914.7" r="11.6"/><circle cx="1104.8" cy="912.3" r="11.6"/><circle cx="1109.2" cy="910.4" r="11.6"/><circle cx="1113.5" cy="907.7" r="11.6"/><circle cx="1117.8" cy="905.8" r="11.6"/><circle cx="1122.2" cy="900.4" r="11.6"/><circle cx="1126.5" cy="897.8" r="11.6"/><circle cx="1130.9" cy="888.6" r="11.6"/><circle cx="1135.2" cy="880" r="11.6"/><circle cx="1139.5" cy="869.2" r="11.6"/><circle cx="1143.9" cy="857.4" r="11.6"/><circle cx="1148.2" cy="846.2" r="11.6"/><circle cx="1152.5" cy="833.3" r="11.6"/><circle cx="1156.9" cy="815.8" r="11.6"/><circle cx="1161.2" cy="803.8" r="11.6"/><circle cx="1165.6" cy="791.5" r="11.6"/><circle cx="1169.9" cy="782.2" r="11.6"/><circle cx="1174.2" cy="774.3" r="11.6"/><circle cx="1178.6" cy="763.6" r="11.6"/><circle cx="1182.9" cy="751.3" r="11.6"/><circle cx="1187.2" cy="736.7" r="11.6"/><circle cx="1191.6" cy="726.7" r="11.6"/><circle cx="1195.9" cy="716.7" r="11.6"/><circle cx="1200.3" cy="706.7" r="11.6"/><circle cx="1204.6" cy="696.7" r="11.6"/><circle cx="1208.9" cy="684.4" r="11.6"/><circle cx="1213.3" cy="671.4" r="11.6"/><circle cx="1217.6" cy="658.3" r="11.6"/><circle cx="1221.9" cy="646.3" r="11.6"/><circle cx="1226.3" cy="634.9" r="11.6"/><circle cx="1230.6" cy="623.4" r="11.6"/><circle cx="1235" cy="612.3" r="11.6"/><circle cx="1239.3" cy="601.2" r="11.6"/><circle cx="1243.6" cy="589.3" r="11.6"/><circle cx="1248" cy="579.3" r="11.6"/><circle cx="1252.3" cy="544" r="11.6"/><circle cx="1256.6" cy="548.8" r="11.6"/><circle cx="1261" cy="546" r="11.6"/><circle cx="1265.3" cy="538.8" r="11.6"/><circle cx="1269.7" cy="528.5" r="11.6"/><circle cx="1274" cy="517.2" r="11.6"/><circle cx="1278.3" cy="507.2" r="11.6"/><circle cx="1282.7" cy="499.5" r="11.6"/><circle cx="1287" cy="493.2" r="11.6"/><circle cx="1291.4" cy="484.7" r="11.6"/><circle cx="1295.7" cy="476.3" r="11.6"/><circle cx="1300" cy="469.5" r="11.6"/><circle cx="1304.4" cy="463.3" r="11.6"/><circle cx="1308.7" cy="458.5" r="11.6"/><circle cx="1313" cy="451.1" r="11.6"/><circle cx="1317.4" cy="443.6" r="11.6"/><circle cx="1321.7" cy="436" r="11.6"/><circle cx="1326.1" cy="428.1" r="11.6"/><circle cx="1330.4" cy="423.1" r="11.6"/><circle cx="1334.7" cy="418.8" r="11.6"/><circle cx="1339.1" cy="413" r="11.6"/><circle cx="1343.4" cy="406.9" r="11.6"/><circle cx="1347.7" cy="401.9" r="11.6"/><circle cx="1352.1" cy="398.1" r="11.6"/><circle cx="1356.4" cy="394.6" r="11.6"/><circle cx="1360.8" cy="389.6" r="11.6"/><circle cx="1365.1" cy="385.4" r="11.6"/><circle cx="1369.4" cy="380.8" r="11.6"/><circle cx="1373.8" cy="376.6" r="11.6"/><circle cx="1378.1" cy="372.7" r="11.6"/><circle cx="1382.4" cy="370.1" r="11.6"/><circle cx="1386.8" cy="367.9" r="11.6"/><circle cx="1391.1" cy="365.3" r="11.6"/><circle cx="1395.5" cy="363.4" r="11.6"/><circle cx="1399.8" cy="361.4" r="11.6"/><circle cx="1404.1" cy="359.9" r="11.6"/><circle cx="1408.5" cy="358" r="11.6"/><circle cx="1412.8" cy="356.4" r="11.6"/><circle cx="1417.1" cy="356.4" r="11.6"/><circle cx="1421.5" cy="355.2" r="11.6"/><circle cx="1425.8" cy="354.5" r="11.6"/><circle cx="1430.2" cy="352.6" r="11.6"/><circle cx="1434.5" cy="351.8" r="11.6"/><circle cx="1438.8" cy="351.1" r="11.6"/><circle cx="1443.2" cy="350.6" r="11.6"/><circle cx="1447.5" cy="350.6" r="11.6"/><circle cx="1451.9" cy="350.3" r="11.6"/><circle cx="1456.2" cy="349.1" r="11.6"/><circle cx="1460.5" cy="348" r="11.6"/><circle cx="1464.9" cy="347.6" r="11.6"/><circle cx="1469.2" cy="347.6" r="11.6"/><circle cx="1473.5" cy="347.6" r="11.6"/><circle cx="1477.9" cy="347.2" r="11.6"/><circle cx="1482.2" cy="346.5" r="11.6"/><circle cx="1486.6" cy="347.6" r="11.6"/><circle cx="1490.9" cy="346.8" r="11.6"/><circle cx="1495.2" cy="346" r="11.6"/><circle cx="1499.6" cy="346.8" r="11.6"/><circle cx="1503.9" cy="347.2" r="11.6"/><circle cx="1508.2" cy="346.5" r="11.6"/><circle cx="1512.6" cy="345.7" r="11.6"/><circle cx="1516.9" cy="346" r="11.6"/><circle cx="1521.3" cy="346.5" r="11.6"/><circle cx="1525.6" cy="345.7" r="11.6"/><circle cx="1529.9" cy="345.3" r="11.6"/><circle cx="1534.3" cy="344.9" r="11.6"/><circle cx="1538.6" cy="345.3" r="11.6"/><circle cx="1542.9" cy="345.7" r="11.6"/><circle cx="1547.3" cy="344.9" r="11.6"/><circle cx="1551.6" cy="345.3" r="11.6"/><circle cx="1556" cy="345.7" r="11.6"/><circle cx="1560.3" cy="344.5" r="11.6"/><circle cx="1564.6" cy="343.8" r="11.6"/><circle cx="1569" cy="343" r="11.6"/><circle cx="1573.3" cy="343.3" r="11.6"/><circle cx="1577.6" cy="343.8" r="11.6"/><circle cx="1582" cy="344.1" r="11.6"/><circle cx="1586.3" cy="344.1" r="11.6"/><circle cx="1590.7" cy="343" r="11.6"/><circle cx="1595" cy="343.8" r="11.6"/><circle cx="1599.3" cy="345.3" r="11.6"/><circle cx="1603.7" cy="346" r="11.6"/><circle cx="1608" cy="346" r="11.6"/><circle cx="1612.4" cy="345.3" r="11.6"/><circle cx="1616.7" cy="345.7" r="11.6"/><circle cx="1621" cy="344.1" r="11.6"/><circle cx="1625.4" cy="344.9" r="11.6"/><circle cx="1629.7" cy="343.4" r="11.6"/><circle cx="1634" cy="343" r="11.6"/><circle cx="1638.4" cy="343.8" r="11.6"/><circle cx="1642.7" cy="344.5" r="11.6"/><circle cx="1647.1" cy="344.9" r="11.6"/><circle cx="1651.4" cy="344.5" r="11.6"/><circle cx="1655.7" cy="344.9" r="11.6"/><circle cx="1660.1" cy="345.3" r="11.6"/><circle cx="1664.4" cy="344.9" r="11.6"/><circle cx="1668.7" cy="344.5" r="11.6"/><circle cx="1673.1" cy="344.5" r="11.6"/><circle cx="1681.8" cy="344.1" r="11.6"/><circle cx="1690.4" cy="343.4" r="11.6"/><circle cx="1699.1" cy="343" r="11.6"/></g>
<path d="M1009.1 299.3v4.4M1013.5 299.6v4.4M1017.8 300.2v4.4M1069.9 916.5v4.4M1074.2 918.6v4.4M1078.5 918.6v4.4M1082.9 918.2v4.4M1091.5 911.7v4.4M1095.9 908.3v4.4M1100.2 905.9v4.4M1104.6 904v4.4M1108.9 901.3v4.4M1117.6 894v4.4M1247.7 537.6v4.4M1252 542.4v4.4M1299.8 456.9v4.4M1325.8 416.7v4.4M1343.1 395.5v4.4M1347.5 391.7v4.4M1356.2 383.2v4.4M1360.5 379v4.4M1364.8 374.4v4.4M1369.2 370.2v4.4M1373.5 366.3v4.4M1377.8 363.7v4.4M1382.2 361.5v4.4M1386.5 358.9v4.4M1390.9 357v4.4M1395.2 355v4.4M1399.5 353.5v4.4M1403.9 351.6v4.4M1408.2 350v4.4M1412.5 350v4.4M1416.9 348.8v4.4M1421.2 348.1v4.4M1425.6 346.2v4.4M1429.9 345.4v4.4M1434.2 344.7v4.4M1438.6 344.2v4.4M1442.9 344.2v4.4M1447.3 343.9v4.4M1451.6 342.7v4.4M1455.9 341.6v4.4M1460.3 341.2v4.4M1464.6 341.2v4.4M1468.9 341.2v4.4M1473.3 340.8v4.4M1477.6 340.1v4.4M1482 341.2v4.4M1486.3 340.4v4.4M1490.6 339.6v4.4M1495 340.4v4.4M1499.3 340.8v4.4M1503.6 340.1v4.4M1508 339.3v4.4M1512.3 339.6v4.4M1516.7 340.1v4.4M1521 339.3v4.4M1525.3 338.9v4.4M1529.7 338.5v4.4M1534 338.9v4.4M1538.3 339.3v4.4M1542.7 338.5v4.4M1547 338.9v4.4M1551.4 339.3v4.4M1555.7 338.1v4.4M1560 337.4v4.4M1564.4 336.6v4.4M1568.7 336.9v4.4M1573 337.4v4.4M1577.4 337.7v4.4M1581.7 337.7v4.4M1586.1 336.6v4.4M1590.4 337.4v4.4M1594.7 338.9v4.4M1599.1 339.6v4.4M1603.4 339.6v4.4M1607.8 338.9v4.4M1612.1 339.3v4.4M1616.4 337.7v4.4M1620.8 338.5v4.4M1625.1 337v4.4M1629.4 336.6v4.4M1633.8 337.4v4.4M1638.1 338.1v4.4M1642.5 338.5v4.4M1646.8 338.1v4.4M1651.1 338.5v4.4M1655.5 338.9v4.4M1659.8 338.5v4.4M1664.1 338.1v4.4" stroke="#fff" stroke-opacity=".3" stroke-width="1.5" stroke-linecap="round" fill="none"/>
<g fill="url(#gO)"><circle cx="1014.2" cy="303.4" r="11.6"/><circle cx="1015.3" cy="303.4" r="11.6"/><circle cx="1016.3" cy="303.4" r="11.6"/><circle cx="1017.4" cy="303.4" r="11.6"/><circle cx="1018.5" cy="303.4" r="11.6"/><circle cx="1019.6" cy="303.4" r="11.6"/><circle cx="1020.7" cy="303.4" r="11.6"/><circle cx="1021.8" cy="303.5" r="11.6"/><circle cx="1022.8" cy="303.6" r="11.6"/><circle cx="1023.9" cy="303.7" r="11.6"/><circle cx="1025" cy="303.8" r="11.6"/><circle cx="1026.1" cy="303.9" r="11.6"/><circle cx="1027.2" cy="304" r="11.6"/><circle cx="1028.3" cy="304.4" r="11.6"/><circle cx="1029.3" cy="304.9" r="11.6"/><circle cx="1030.4" cy="305.3" r="11.6"/><circle cx="1031.5" cy="306.1" r="11.6"/><circle cx="1032.6" cy="307" r="11.6"/><circle cx="1033.7" cy="308" r="11.6"/><circle cx="1034.8" cy="311.5" r="11.6"/><circle cx="1036.9" cy="323.3" r="11.6"/><circle cx="1039.1" cy="350.5" r="11.6"/><circle cx="1041.3" cy="413.3" r="11.6"/><circle cx="1043.4" cy="513.5" r="11.6"/><circle cx="1045.6" cy="634.5" r="11.6"/><circle cx="1047.8" cy="749.1" r="11.6"/><circle cx="1049.9" cy="836.9" r="11.6"/><circle cx="1052.1" cy="891" r="11.6"/><circle cx="1054.3" cy="916.4" r="11.6"/><circle cx="1056.4" cy="925" r="11.6"/><circle cx="1058.6" cy="918.9" r="11.6"/><circle cx="1060.8" cy="898.3" r="11.6"/><circle cx="1062.9" cy="872.5" r="11.6"/><circle cx="1065.1" cy="844.9" r="11.6"/><circle cx="1067.3" cy="818.3" r="11.6"/><circle cx="1069.4" cy="790.3" r="11.6"/><circle cx="1071.6" cy="762" r="11.6"/><circle cx="1073.8" cy="736.8" r="11.6"/><circle cx="1075.9" cy="712.6" r="11.6"/><circle cx="1078.1" cy="688.9" r="11.6"/><circle cx="1080.3" cy="664.5" r="11.6"/><circle cx="1082.4" cy="640.8" r="11.6"/><circle cx="1084.6" cy="617.2" r="11.6"/><circle cx="1086.8" cy="594.2" r="11.6"/><circle cx="1088.9" cy="570.6" r="11.6"/><circle cx="1091.1" cy="544.7" r="11.6"/><circle cx="1093.3" cy="517.6" r="11.6"/><circle cx="1095.4" cy="493.1" r="11.6"/><circle cx="1097.6" cy="473.1" r="11.6"/><circle cx="1099.8" cy="456.1" r="11.6"/><circle cx="1101.9" cy="436.8" r="11.6"/><circle cx="1104.1" cy="419.1" r="11.6"/><circle cx="1106.3" cy="402.5" r="11.6"/><circle cx="1108.4" cy="388" r="11.6"/><circle cx="1110.6" cy="375.5" r="11.6"/><circle cx="1112.8" cy="364.6" r="11.6"/><circle cx="1114.9" cy="355.7" r="11.6"/><circle cx="1117.1" cy="348.3" r="11.6"/><circle cx="1119.3" cy="341.8" r="11.6"/><circle cx="1121.4" cy="336.9" r="11.6"/><circle cx="1123.6" cy="333.9" r="11.6"/><circle cx="1125.8" cy="331.5" r="11.6"/><circle cx="1130.1" cy="324.9" r="11.6"/><circle cx="1134.4" cy="319.4" r="11.6"/><circle cx="1138.8" cy="312.4" r="11.6"/><circle cx="1143.1" cy="308.7" r="11.6"/><circle cx="1147.4" cy="309.2" r="11.6"/><circle cx="1151.8" cy="310.2" r="11.6"/><circle cx="1156.1" cy="312.7" r="11.6"/><circle cx="1160.5" cy="313.6" r="11.6"/><circle cx="1164.8" cy="314.6" r="11.6"/><circle cx="1169.1" cy="313.3" r="11.6"/><circle cx="1173.5" cy="314.7" r="11.6"/><circle cx="1177.8" cy="314.9" r="11.6"/><circle cx="1182.1" cy="317.6" r="11.6"/><circle cx="1186.5" cy="318.8" r="11.6"/><circle cx="1190.8" cy="318.8" r="11.6"/><circle cx="1195.2" cy="323.5" r="11.6"/><circle cx="1199.5" cy="325.6" r="11.6"/><circle cx="1203.8" cy="326.4" r="11.6"/><circle cx="1208.2" cy="327.8" r="11.6"/><circle cx="1212.5" cy="327.7" r="11.6"/><circle cx="1216.8" cy="328.3" r="11.6"/><circle cx="1221.2" cy="330" r="11.6"/><circle cx="1225.5" cy="329.1" r="11.6"/><circle cx="1229.9" cy="329.9" r="11.6"/><circle cx="1234.2" cy="329.8" r="11.6"/><circle cx="1238.5" cy="328.5" r="11.6"/><circle cx="1242.9" cy="328.9" r="11.6"/><circle cx="1247.2" cy="328.2" r="11.6"/><circle cx="1251.6" cy="328.8" r="11.6"/><circle cx="1255.9" cy="327.5" r="11.6"/><circle cx="1260.2" cy="327.3" r="11.6"/><circle cx="1264.6" cy="326.5" r="11.6"/><circle cx="1268.9" cy="326.3" r="11.6"/><circle cx="1273.2" cy="325.1" r="11.6"/><circle cx="1277.6" cy="324" r="11.6"/><circle cx="1281.9" cy="324.9" r="11.6"/><circle cx="1286.3" cy="323.6" r="11.6"/><circle cx="1290.6" cy="321.9" r="11.6"/><circle cx="1294.9" cy="320.3" r="11.6"/><circle cx="1299.3" cy="318.9" r="11.6"/><circle cx="1303.6" cy="318.6" r="11.6"/><circle cx="1307.9" cy="318.7" r="11.6"/><circle cx="1312.3" cy="318" r="11.6"/><circle cx="1316.6" cy="319.8" r="11.6"/><circle cx="1321" cy="318.7" r="11.6"/><circle cx="1325.3" cy="319.8" r="11.6"/><circle cx="1329.6" cy="318.4" r="11.6"/><circle cx="1334" cy="319.7" r="11.6"/><circle cx="1338.3" cy="319.3" r="11.6"/><circle cx="1342.6" cy="316.8" r="11.6"/><circle cx="1347" cy="317.1" r="11.6"/><circle cx="1351.3" cy="318.7" r="11.6"/><circle cx="1355.7" cy="317.3" r="11.6"/><circle cx="1360" cy="318.4" r="11.6"/><circle cx="1364.3" cy="316.9" r="11.6"/><circle cx="1368.7" cy="316.1" r="11.6"/><circle cx="1373" cy="317.6" r="11.6"/><circle cx="1377.3" cy="318" r="11.6"/><circle cx="1381.7" cy="316.7" r="11.6"/><circle cx="1386" cy="316.3" r="11.6"/><circle cx="1390.4" cy="316.9" r="11.6"/><circle cx="1394.7" cy="318.6" r="11.6"/><circle cx="1399" cy="318.1" r="11.6"/><circle cx="1403.4" cy="316.5" r="11.6"/><circle cx="1407.7" cy="316.9" r="11.6"/><circle cx="1412.1" cy="316.5" r="11.6"/><circle cx="1416.4" cy="316.3" r="11.6"/><circle cx="1420.7" cy="318.2" r="11.6"/><circle cx="1425.1" cy="316.6" r="11.6"/><circle cx="1429.4" cy="317.6" r="11.6"/><circle cx="1434.2" cy="317.3" r="11.6"/><circle cx="1442.9" cy="316.4" r="11.6"/><circle cx="1451.6" cy="317.7" r="11.6"/><circle cx="1460.3" cy="316" r="11.6"/><circle cx="1469" cy="317.3" r="11.6"/><circle cx="1477.6" cy="315.5" r="11.6"/><circle cx="1486.3" cy="315.9" r="11.6"/><circle cx="1495" cy="314.9" r="11.6"/><circle cx="1503.7" cy="314.7" r="11.6"/><circle cx="1512.3" cy="316" r="11.6"/><circle cx="1521" cy="315" r="11.6"/><circle cx="1529.7" cy="313.2" r="11.6"/><circle cx="1538.4" cy="314.2" r="11.6"/><circle cx="1547" cy="311.9" r="11.6"/><circle cx="1555.7" cy="313.4" r="11.6"/><circle cx="1564.4" cy="314.1" r="11.6"/><circle cx="1573.1" cy="313.1" r="11.6"/><circle cx="1581.7" cy="311.1" r="11.6"/><circle cx="1590.4" cy="313" r="11.6"/><circle cx="1599.1" cy="310.4" r="11.6"/><circle cx="1607.8" cy="310.1" r="11.6"/><circle cx="1616.4" cy="311.1" r="11.6"/><circle cx="1625.1" cy="309.6" r="11.6"/><circle cx="1633.8" cy="309.2" r="11.6"/><circle cx="1642.5" cy="308.3" r="11.6"/><circle cx="1651.1" cy="308" r="11.6"/><circle cx="1659.8" cy="309" r="11.6"/><circle cx="1668.5" cy="307.8" r="11.6"/><circle cx="1677.2" cy="308.4" r="11.6"/><circle cx="1685.8" cy="307.8" r="11.6"/><circle cx="1694.5" cy="308" r="11.6"/></g>
<path d="M1009.6 297v4.4M1010.7 297v4.4M1011.7 297v4.4M1012.8 297v4.4M1013.9 297v4.4M1015 297v4.4M1016.1 297v4.4M1017.2 297.1v4.4M1018.2 297.2v4.4M1019.3 297.3v4.4M1020.4 297.4v4.4M1021.5 297.5v4.4M1022.6 297.6v4.4M1023.7 298v4.4M1024.7 298.5v4.4M1025.8 298.9v4.4M1026.9 299.7v4.4M1028 300.6v4.4M1029.1 301.6v4.4M1114.7 335.4v4.4M1116.8 330.5v4.4M1119 327.5v4.4M1134.2 306v4.4M1138.5 302.3v4.4M1142.8 302.8v4.4M1147.2 303.8v4.4M1151.5 306.3v4.4M1155.9 307.2v4.4M1160.2 308.2v4.4M1164.5 306.9v4.4M1168.9 308.3v4.4M1173.2 308.5v4.4M1177.5 311.2v4.4M1181.9 312.4v4.4M1186.2 312.4v4.4M1190.6 317.1v4.4M1194.9 319.2v4.4M1199.2 320v4.4M1203.6 321.4v4.4M1207.9 321.3v4.4M1212.2 321.9v4.4M1216.6 323.6v4.4M1220.9 322.7v4.4M1225.3 323.5v4.4M1229.6 323.4v4.4M1233.9 322.1v4.4M1238.3 322.5v4.4M1242.6 321.8v4.4M1247 322.4v4.4M1251.3 321.1v4.4M1255.6 320.9v4.4M1260 320.1v4.4M1264.3 319.9v4.4M1268.6 318.7v4.4M1273 317.6v4.4M1277.3 318.5v4.4M1281.7 317.2v4.4M1286 315.5v4.4M1290.3 313.9v4.4M1294.7 312.5v4.4M1299 312.2v4.4M1303.3 312.3v4.4M1307.7 311.6v4.4M1312 313.4v4.4M1316.4 312.3v4.4M1320.7 313.4v4.4M1325 312v4.4M1329.4 313.3v4.4M1333.7 312.9v4.4M1338 310.4v4.4M1342.4 310.7v4.4M1346.7 312.3v4.4M1351.1 310.9v4.4M1355.4 312v4.4M1359.7 310.5v4.4M1364.1 309.7v4.4M1368.4 311.2v4.4M1372.7 311.6v4.4M1377.1 310.3v4.4M1381.4 309.9v4.4M1385.8 310.5v4.4M1390.1 312.2v4.4M1394.4 311.7v4.4M1398.8 310.1v4.4M1403.1 310.5v4.4M1407.5 310.1v4.4M1411.8 309.9v4.4M1416.1 311.8v4.4M1420.5 310.2v4.4M1424.8 311.2v4.4" stroke="#fff" stroke-opacity=".3" stroke-width="1.5" stroke-linecap="round" fill="none"/>
<path d="M1065.3 901.3L1065.3 900.5L1065.4 898.4L1065.6 894.8L1065.8 889.8L1066.1 883.5L1066.5 875.8L1066.9 866.9L1067.4 856.7L1067.9 845.4L1068.5 833.1L1069.2 819.8L1070.0 805.5L1070.8 790.5L1071.6 774.8L1072.6 758.5L1073.6 741.6L1074.6 724.4L1075.8 706.8L1077.0 689.0L1078.2 671.1L1079.5 653.1L1080.9 635.2L1082.4 617.5L1083.9 600.0L1085.5 582.7L1087.1 565.9L1088.9 549.4L1090.6 533.4L1092.5 518.0L1094.4 503.1L1096.3 488.8L1098.4 475.2L1100.5 462.2L1102.6 449.9L1104.9 438.2L1107.2 427.2L1109.5 416.9L1112.0 407.3L1114.4 398.4L1117.0 390.1L1119.6 382.4L1122.3 375.3L1125.0 368.8L1127.8 362.9L1130.7 357.5L1133.7 352.6L1136.7 348.1L1139.7 344.2L1142.9 340.6L1146.1 337.4L1149.3 334.5L1152.7 332.0L1156.0 329.8L1159.5 327.8L1163.0 326.1L1166.6 324.6L1170.3 323.3L1174.0 322.1L1177.8 321.2L1181.6 320.3L1185.5 319.6L1189.5 319.0L1193.5 318.5L1197.6 318.0L1201.8 317.7L1206.0 317.4L1210.3 317.1L1214.7 316.9L1219.1 316.7L1223.6 316.6L1228.2 316.5L1232.8 316.4L1237.5 316.3L1242.2 316.2L1247.0 316.2L1251.9 316.1L1256.8 316.1L1261.9 316.1L1266.9 316.1L1272.1 316.1L1277.3 316.0L1282.5 316.0L1287.9 316.0L1293.3 316.0L1298.7 316.0L1304.2 316.0L1309.8 316.0L1315.5 316.0L1321.2 316.0L1327.0 316.0L1332.8 316.0L1338.7 316.0L1344.7 316.0L1350.8 316.0L1356.9 316.0L1363.0 316.0L1369.3 316.0L1375.6 316.0L1381.9 316.0L1388.4 316.0L1394.9 316.0L1401.4 316.0L1408.0 316.0L1414.7 316.0L1421.5 316.0L1428.3 316.0L1435.2 316.0L1442.1 316.0L1449.1 316.0L1456.2 316.0L1463.3 316.0L1470.5 316.0L1477.8 316.0L1485.2 316.0L1492.5 316.0L1500.0 316.0L1507.5 316.0L1515.1 316.0L1522.8 316.0L1530.5 316.0L1538.3 316.0L1546.1 316.0L1554.1 316.0L1562.0 316.0L1570.1 316.0L1578.2 316.0L1586.4 316.0L1594.6 316.0L1602.9 316.0L1611.3 316.0L1619.7 316.0L1628.2 316.0L1636.8 316.0L1645.4 316.0L1654.1 316.0L1662.8 316.0L1671.7 316.0L1680.5 316.0L1689.5 316.0L1698.5 316.0" fill="none" stroke="#ff0000" stroke-width="2.8" stroke-linejoin="round"/>
<path d="M1173.0 816.4L1173.0 816.3L1173.1 815.9L1173.2 815.3L1173.4 814.4L1173.7 813.2L1174.0 811.8L1174.3 810.2L1174.7 808.3L1175.2 806.2L1175.7 803.8L1176.3 801.2L1176.9 798.3L1177.5 795.3L1178.3 792.0L1179.1 788.4L1179.9 784.7L1180.8 780.7L1181.7 776.5L1182.7 772.2L1183.8 767.6L1184.9 762.8L1186.0 757.9L1187.2 752.8L1188.5 747.5L1189.8 742.0L1191.2 736.4L1192.6 730.6L1194.1 724.7L1195.6 718.7L1197.2 712.5L1198.9 706.2L1200.6 699.8L1202.3 693.3L1204.1 686.7L1206.0 680.0L1207.9 673.2L1209.8 666.4L1211.9 659.4L1213.9 652.5L1216.1 645.5L1218.2 638.5L1220.5 631.4L1222.8 624.3L1225.1 617.2L1227.5 610.1L1229.9 603.0L1232.5 595.9L1235.0 588.9L1237.6 581.9L1240.3 574.9L1243.0 567.9L1245.8 561.0L1248.6 554.2L1251.5 547.4L1254.4 540.7L1257.4 534.1L1260.4 527.5L1263.5 521.1L1266.7 514.7L1269.9 508.4L1273.1 502.3L1276.5 496.2L1279.8 490.3L1283.2 484.5L1286.7 478.8L1290.2 473.2L1293.8 467.8L1297.4 462.4L1301.1 457.2L1304.9 452.2L1308.7 447.3L1312.5 442.5L1316.4 437.8L1320.4 433.3L1324.4 428.9L1328.5 424.7L1332.6 420.6L1336.7 416.6L1341.0 412.8L1345.2 409.1L1349.6 405.6L1354.0 402.1L1358.4 398.9L1362.9 395.7L1367.4 392.7L1372.1 389.7L1376.7 387.0L1381.4 384.3L1386.2 381.7L1391.0 379.3L1395.9 377.0L1400.8 374.8L1405.8 372.7L1410.8 370.7L1415.9 368.8L1421.0 367.0L1426.2 365.2L1431.5 363.6L1436.8 362.1L1442.1 360.6L1447.5 359.2L1453.0 358.0L1458.5 356.7L1464.1 355.6L1469.7 354.5L1475.4 353.5L1481.1 352.5L1486.9 351.6L1492.8 350.8L1498.7 350.0L1504.6 349.2L1510.6 348.5L1516.7 347.9L1522.8 347.3L1528.9 346.7L1535.1 346.2L1541.4 345.7L1547.7 345.2L1554.1 344.8L1560.6 344.4L1567.0 344.0L1573.6 343.7L1580.2 343.4L1586.8 343.1L1593.5 342.8L1600.3 342.6L1607.1 342.3L1613.9 342.1L1620.9 341.9L1627.8 341.7L1634.9 341.6L1641.9 341.4L1649.1 341.3L1656.3 341.1L1663.5 341.0L1670.8 340.9L1678.1 340.8L1685.5 340.7L1693.0 340.6L1700.5 340.5" fill="none" stroke="#ff0000" stroke-width="2.8" stroke-linejoin="round"/>
</g>
<g font-size="44.8">
<text x="1046.1" y="1004.5" text-anchor="middle">0</text>
<text x="1176.4" y="1004.5" text-anchor="middle">4</text>
<text x="1306.7" y="1004.5" text-anchor="middle">8</text>
<text x="1437.0" y="1004.5" text-anchor="middle">12</text>
<text x="1567.3" y="1004.5" text-anchor="middle">16</text>
<text x="1697.6" y="1004.5" text-anchor="middle">20</text>
<text x="982" y="316.3" text-anchor="end">0.0</text>
<text x="982" y="440.6" text-anchor="end">-0.2</text>
<text x="982" y="564.8" text-anchor="end">-0.4</text>
<text x="982" y="689.1" text-anchor="end">-0.6</text>
<text x="982" y="813.3" text-anchor="end">-0.8</text>
<text x="982" y="937.6" text-anchor="end">-1.0</text>
</g>
<text transform="translate(1356.3 1075.5) scale(1.023 1)" font-size="60" text-anchor="middle">Time delay (ps)</text>
<text transform="translate(893.5 634) rotate(-90)" font-size="60.8" text-anchor="middle">Normalized Δ<tspan font-style="italic">R/R</tspan></text>
<text class="ser" x="1221" y="287.6" font-size="50" style="fill:#ff7f40"><tspan font-style="italic">τ</tspan> = 0.75 ps</text>
<text class="ser" x="1372.5" y="443.8" font-size="50" style="fill:#0000ff"><tspan font-style="italic">τ</tspan> = 3.98 ps</text>
<circle cx="1335.8" cy="719.2" r="12" fill="url(#gB)"/>
<circle cx="1335.8" cy="794.4" r="12" fill="url(#gO)"/>
<path d="M1292 868.2H1379.5" stroke="#ff0000" stroke-width="4.6" fill="none"/>
<g font-size="58.5" transform="translate(1387.2 0) scale(1.048 1)">
<text x="0" y="731.3">Undoped</text>
<text x="0" y="806.4">Ni-4%</text>
<text x="0" y="880.8">Fitting line</text>
</g>
</svg></body></html>
